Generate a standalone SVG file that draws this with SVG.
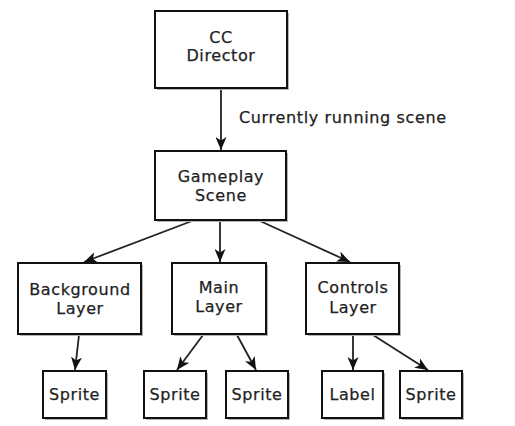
<svg xmlns="http://www.w3.org/2000/svg" width="515" height="426" viewBox="0 0 515 426">
<defs>
<marker id="arr" viewBox="0 0 13 11" refX="13" refY="5.5" markerWidth="13" markerHeight="11" markerUnits="userSpaceOnUse" orient="auto">
<path d="M0,0 L13,5.5 L0,11 L3.5,5.5 Z" fill="#111"/>
</marker>
</defs>
<style>
.box{fill:#fff;stroke:#111;stroke-width:2}
.sh{fill:#b4b4b4;stroke:none}
.t{font-family:"DejaVu Sans",Verdana,sans-serif;font-size:16px;letter-spacing:0.6px;fill:#222;stroke:#222;stroke-width:0.25;text-anchor:middle}
.lbl{font-family:"DejaVu Sans",Verdana,sans-serif;font-size:16px;letter-spacing:0.65px;fill:#222;stroke:#222;stroke-width:0.25}
.c{stroke:#222;stroke-width:1.8;fill:none;marker-end:url(#arr)}
</style>
<rect width="515" height="426" fill="#fff"/>
<g id="connectors">
<line class="c" x1="221" y1="89" x2="221" y2="150"/>
<line class="c" x1="192" y1="221" x2="84" y2="262"/>
<line class="c" x1="220" y1="221" x2="220" y2="262"/>
<line class="c" x1="260" y1="221" x2="350" y2="262"/>
<line class="c" x1="79" y1="335" x2="75" y2="370"/>
<line class="c" x1="203" y1="335" x2="177" y2="370"/>
<line class="c" x1="237" y1="335" x2="256" y2="370"/>
<line class="c" x1="353" y1="335" x2="353" y2="370"/>
<line class="c" x1="373" y1="335" x2="428" y2="370"/>
<text class="lbl" x="239" y="123">Currently running scene</text>
</g>
<g id="director">
<rect class="sh" x="157" y="13" width="132" height="77"/>
<rect class="box" x="155" y="11" width="132" height="77"/>
<text class="t" x="221" y="43">CC</text>
<text class="t" x="221" y="61">Director</text>
</g>
<g id="gameplay">
<rect class="sh" x="157" y="153" width="131" height="69"/>
<rect class="box" x="155" y="151" width="131" height="69"/>
<text class="t" x="221" y="182">Gameplay</text>
<text class="t" x="221" y="201">Scene</text>
</g>
<g id="background">
<rect class="sh" x="20" y="265" width="123" height="71"/>
<rect class="box" x="18" y="263" width="123" height="71"/>
<text class="t" x="80" y="295">Background</text>
<text class="t" x="80" y="314">Layer</text>
</g>
<g id="main">
<rect class="sh" x="174" y="265" width="94" height="71"/>
<rect class="box" x="172" y="263" width="94" height="71"/>
<text class="t" x="219" y="293">Main</text>
<text class="t" x="219" y="312">Layer</text>
</g>
<g id="controls">
<rect class="sh" x="308" y="265" width="93" height="71"/>
<rect class="box" x="306" y="263" width="93" height="71"/>
<text class="t" x="353" y="293">Controls</text>
<text class="t" x="353" y="313">Layer</text>
</g>
<g id="sprite1">
<rect class="sh" x="45" y="373" width="63" height="47"/>
<rect class="box" x="43" y="371" width="63" height="47"/>
<text class="t" x="74.5" y="400">Sprite</text>
</g>
<g id="sprite2">
<rect class="sh" x="146" y="373" width="62" height="47"/>
<rect class="box" x="144" y="371" width="62" height="47"/>
<text class="t" x="175" y="400">Sprite</text>
</g>
<g id="sprite3">
<rect class="sh" x="228" y="373" width="62" height="47"/>
<rect class="box" x="226" y="371" width="62" height="47"/>
<text class="t" x="257" y="400">Sprite</text>
</g>
<g id="label">
<rect class="sh" x="324" y="373" width="61" height="47"/>
<rect class="box" x="322" y="371" width="61" height="47"/>
<text class="t" x="352.5" y="400">Label</text>
</g>
<g id="sprite5">
<rect class="sh" x="402" y="373" width="62" height="47"/>
<rect class="box" x="400" y="371" width="62" height="47"/>
<text class="t" x="431" y="400">Sprite</text>
</g>
</svg>
